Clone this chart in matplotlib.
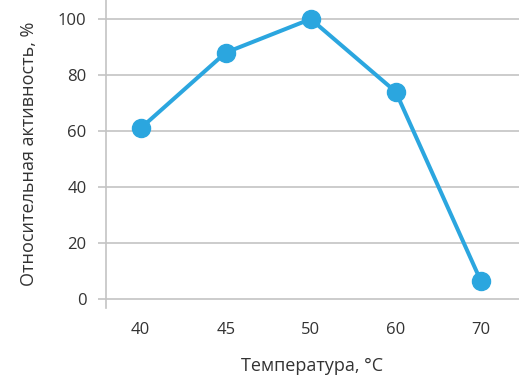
import matplotlib
matplotlib.use('Agg')
import matplotlib.pyplot as plt

temps = ['40', '45', '50', '60', '70']
activity = [61, 88, 100, 74, 6.5]
yticks = [0, 20, 40, 60, 80, 100]

plt.rcParams['font.family'] = ['Open Sans', 'DejaVu Sans']

fig = plt.figure(figsize=(5.19, 3.79), dpi=100)
ax = fig.add_axes([0.204, 0.187, 0.796, 0.813])

grid_c = '#c4c4c4'
text_c = '#333333'
blue = '#2ba6df'

x = list(range(len(temps)))
ax.plot(x, activity, color=blue, lw=2.9, marker='o', ms=13, zorder=3)

ax.set_xlim(-0.41, 4.45)
ax.set_ylim(-3.3, 106.8)
ax.set_yticks(yticks)
ax.set_xticks(x)
ax.set_xticklabels(temps)
ax.yaxis.grid(True, color=grid_c, lw=1.2)
ax.set_axisbelow(True)

for s in ['top', 'right', 'bottom']:
    ax.spines[s].set_visible(False)
ax.spines['left'].set_color(grid_c)
ax.spines['left'].set_linewidth(1.2)

ax.tick_params(axis='y', length=6, width=1.2, color=grid_c, labelsize=12,
               labelcolor=text_c, pad=8)
ax.tick_params(axis='x', length=0, labelsize=12, labelcolor=text_c, pad=10)

ax.set_ylabel('Относительная активность, %', fontsize=13, color=text_c, labelpad=14)
ax.set_xlabel('Температура, °C', fontsize=13, color=text_c, labelpad=14)

fig.savefig('out.png', dpi=100)
